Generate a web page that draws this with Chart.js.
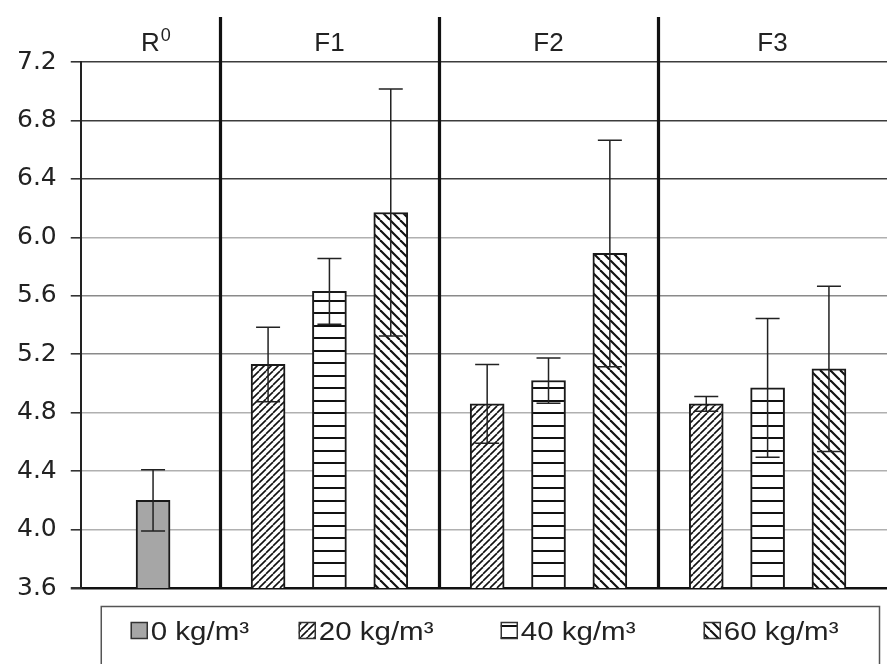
<!DOCTYPE html>
<html><head><meta charset="utf-8">
<script src="https://cdn.jsdelivr.net/npm/chart.js@4.4.0/dist/chart.umd.min.js"></script>
<style>html,body{margin:0;padding:0;background:#fff;}#wrap{width:887px;height:664px;position:relative;}</style>
</head><body><div id="wrap"><canvas id="c"></canvas></div>
<script>
// ---- data ----
const groupLabels = ['R', 'F1', 'F2', 'F3'];      // R carries superscript 0
const groupSeparators = [1, 2, 3];
const seriesLabels = ['0 kg/m³', '20 kg/m³', '40 kg/m³', '60 kg/m³'];
const slotOffsets = [0.22, 0.5, 0.78];            // 20, 40, 60 kg/m³ inside each F group
const fGroups = [1, 2, 3];                        // F1, F2, F3
const refPosition = [0.695];                      // R0 position
const yTickValues = [3.6, 4.0, 4.4, 4.8, 5.2, 5.6, 6.0, 6.4, 6.8, 7.2];

const v0  = [4.20];  const e0  = [0.21];
const v20 = [5.13, 4.86, 4.86]; const e20 = [0.255, 0.27, 0.05];
const v40 = [5.63, 5.02, 4.97]; const e40 = [0.225, 0.155, 0.475];
const v60 = [6.17, 5.89, 5.10]; const e60 = [0.845, 0.775, 0.565];

const X_MIN = 0.365, X_MAX = 4.045;

// ---- patterns ----
function makePattern(kind) {
  const c = document.createElement('canvas');
  const g = c.getContext('2d');
  if (kind === 'fwd') {
    const s = 7; c.width = s; c.height = s;
    g.fillStyle = '#fff'; g.fillRect(0, 0, s, s);
    g.strokeStyle = '#111'; g.lineWidth = 1.6;
    for (let k = -1; k <= 1; k++) { g.beginPath(); g.moveTo(k * s, s); g.lineTo(k * s + s, 0); g.stroke(); }
  } else if (kind === 'back') {
    const s = 10; c.width = s; c.height = s;
    g.fillStyle = '#fff'; g.fillRect(0, 0, s, s);
    g.strokeStyle = '#111'; g.lineWidth = 2.1;
    for (let k = -1; k <= 1; k++) { g.beginPath(); g.moveTo(k * s, 0); g.lineTo(k * s + s, s); g.stroke(); }
  } else if (kind === 'horiz') {
    c.width = 8; c.height = 25;
    g.fillStyle = '#fff'; g.fillRect(0, 0, 8, 25);
    g.fillStyle = '#111'; g.fillRect(0, 0, 8, 2); g.fillRect(0, 12, 8, 2);
  }
  return g.createPattern(c, 'repeat');
}
const ctx0 = document.getElementById('c').getContext('2d');
const fills = ['#a6a6a6', makePattern('fwd'), makePattern('horiz'), makePattern('back')];

function pts(xs, vs, es) { return vs.map((v, i) => ({ x: xs[i], y: v, err: es[i] })); }
const fX = off => fGroups.map(g => g + off);

const datasets = [
  { label: seriesLabels[0], data: pts(refPosition, v0, e0) },
  { label: seriesLabels[1], data: pts(fX(slotOffsets[0]), v20, e20) },
  { label: seriesLabels[2], data: pts(fX(slotOffsets[1]), v40, e40) },
  { label: seriesLabels[3], data: pts(fX(slotOffsets[2]), v60, e60) }
].map((d, i) => Object.assign(d, {
  backgroundColor: fills[i], borderColor: '#1a1a1a', borderWidth: 2,
  barThickness: 34, grouped: false, borderSkipped: 'bottom'
}));

const FONT = '"Liberation Sans", Arial, sans-serif';
const TICKFONT = '"DejaVu Sans", "Liberation Sans", sans-serif';

const decor = {
  id: 'decor',
  afterDatasetsDraw(chart) {
    const c = chart.ctx, ys = chart.scales.y;
    c.save(); c.strokeStyle = '#222'; c.lineWidth = 1.5;
    chart.data.datasets.forEach((ds, di) => {
      const meta = chart.getDatasetMeta(di);
      ds.data.forEach((p, j) => {
        const x = meta.data[j].x;
        const yt = ys.getPixelForValue(p.y + p.err), yb = ys.getPixelForValue(p.y - p.err);
        c.beginPath();
        c.moveTo(x, yt); c.lineTo(x, yb);
        c.moveTo(x - 12, yt); c.lineTo(x + 12, yt);
        c.moveTo(x - 12, yb); c.lineTo(x + 12, yb);
        c.stroke();
      });
    });
    c.restore();
  },
  afterDraw(chart) {
    const c = chart.ctx, xs = chart.scales.x, a = chart.chartArea;
    c.save();
    // separators
    c.strokeStyle = '#111'; c.lineWidth = 3.2;
    groupSeparators.forEach(v => {
      const x = Math.round(xs.getPixelForValue(v)) + 0.5;
      c.beginPath(); c.moveTo(x, a.top - 45); c.lineTo(x, a.bottom); c.stroke();
    });
    // group headers
    const bounds = [X_MIN].concat(groupSeparators, [X_MAX]);
    c.fillStyle = '#222'; c.textBaseline = 'alphabetic';
    groupLabels.forEach((lab, i) => {
      const cx = xs.getPixelForValue((bounds[i] + bounds[i + 1]) / 2);
      c.font = '26px ' + FONT;
      if (i === 0) {
        const w1 = c.measureText(lab).width;
        c.font = '18px ' + FONT;
        const w2 = c.measureText('0').width;
        const sx = cx + 5 - (w1 + w2) / 2;
        c.font = '26px ' + FONT; c.textAlign = 'left';
        c.fillText(lab, sx, a.top - 11);
        c.font = '18px ' + FONT;
        c.fillText('0', sx + w1 + 1, a.top - 21);
      } else {
        c.textAlign = 'center';
        c.fillText(lab, cx, a.top - 11);
      }
    });
    // legend
    const L = a.left + 20, T = a.bottom + 18, R = a.right - 8;
    c.strokeStyle = '#555'; c.lineWidth = 1.5;
    c.strokeRect(L + 0.5, T + 0.5, R - L, 80);
    const starts = [30, 198, 400, 603];
    chart.data.datasets.forEach((ds, i) => {
      const x = L + starts[i], y = T + 16;
      c.fillStyle = ds.backgroundColor; c.fillRect(x, y, 17, 17);
      c.strokeStyle = '#333'; c.lineWidth = 1.5; c.strokeRect(x + 0.5, y + 0.5, 16, 16);
      c.save();
      c.translate(x + 20, y + 18); c.scale(1.18, 1);
      c.font = '25px ' + FONT; c.textAlign = 'left';
      c.fillStyle = '#222'; c.fillText(ds.label, 0, 0);
      c.restore();
    });
    c.restore();
  }
};

new Chart(ctx0, {
  type: 'bar',
  data: { datasets },
  options: {
    responsive: true, maintainAspectRatio: false, animation: false,
    layout: { padding: { left: 3, top: 62, right: 0, bottom: 76 } },
    plugins: { legend: { display: false }, tooltip: { enabled: false } },
    scales: {
      x: { type: 'linear', min: X_MIN, max: X_MAX, offset: false, display: false },
      y: {
        min: 3.6, max: 7.2,
        afterBuildTicks: ax => { ax.ticks = yTickValues.map(v => ({ value: v })); },
        ticks: { callback: v => Number(v).toFixed(1), color: '#222', padding: 14, font: { size: 25, family: TICKFONT } },
        grid: {
          tickLength: 10, tickColor: '#333',
          color: c => { const v = c.tick ? c.tick.value : 0;
            if (v <= 3.61) return '#111'; if (v >= 6.39) return '#3c3c3c';
            if (v > 5.1 && v < 5.7) return '#8a8a8a'; return '#b0b0b0'; },
          lineWidth: c => { const v = c.tick ? c.tick.value : 0; return v <= 3.61 ? 2.5 : 1.6; }
        },
        border: { color: '#222', width: 2 }
      }
    }
  },
  plugins: [decor]
});
</script></body></html>
